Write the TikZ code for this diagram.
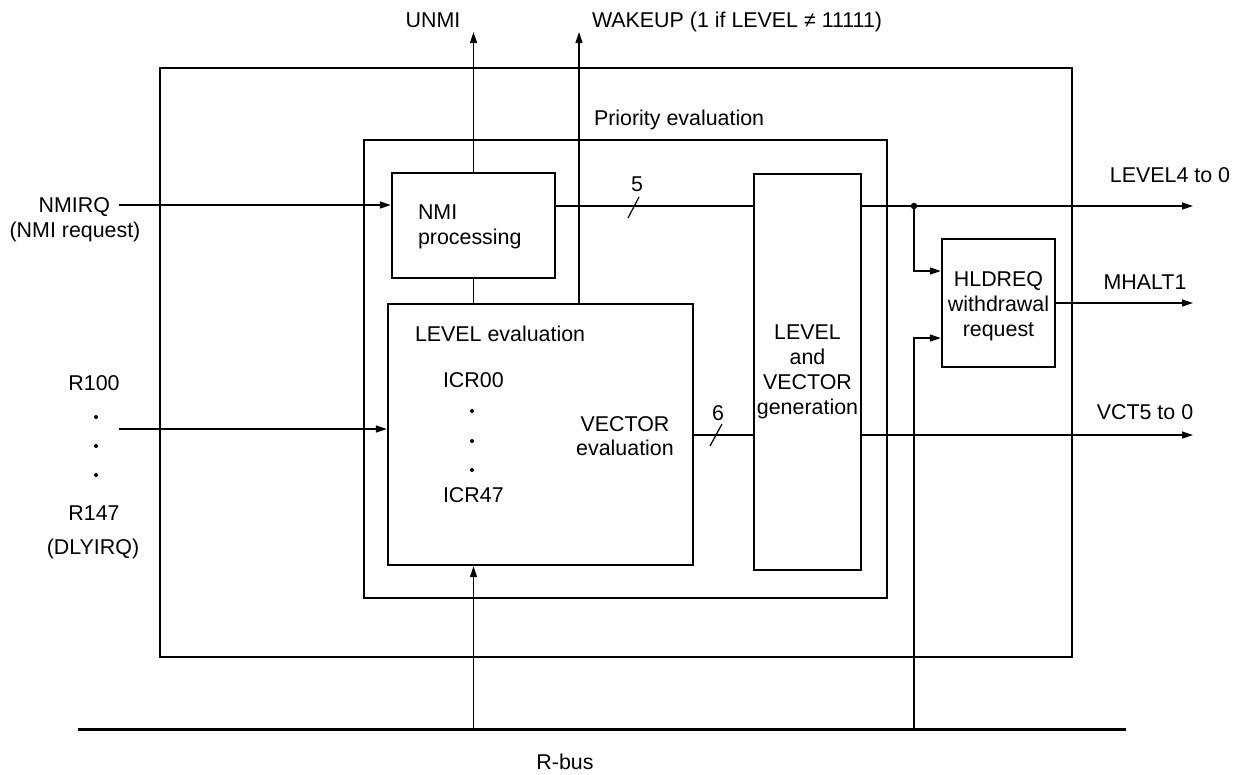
\documentclass[tikz,border=0pt]{standalone}
\usepackage{fontspec}
\setmainfont{Liberation Sans}
\usetikzlibrary{arrows.meta}
\begin{document}
\begin{tikzpicture}[x=1pt,y=-1pt,
  box/.style={draw, line width=2.4pt, inner sep=0pt},
  wire/.style={line width=1.2pt},
  arr/.style={wire, -{Triangle[length=11pt,width=7pt]}},
  lab/.style={font=\fontsize{21.4}{25}\selectfont, inner sep=0pt, outer sep=0pt},
  dotmark/.style={fill, circle, inner sep=0pt, minimum size=4pt},
  jdot/.style={fill, circle, inner sep=0pt, minimum size=6.5pt}]
\useasboundingbox (0,0) rectangle (1233,774);

% boxes
\node[box, minimum width=912pt, minimum height=589pt] (outer) at (616,362.5) {};
\node[box, minimum width=523pt, minimum height=458pt] (prio) at (625.5,369) {};
\node[box, minimum width=163pt, minimum height=105pt] (nmi) at (473.5,225.5) {};
\node[box, minimum width=305pt, minimum height=261pt] (leval) at (540.5,434.5) {};
\node[box, minimum width=107pt, minimum height=396pt, align=center,
      font=\fontsize{21.4}{25}\selectfont] (gen) at (807.5,372) {LEVEL\\and\\VECTOR\\generation};
\node[box, minimum width=113pt, minimum height=128pt] (hld) at (998.5,303) {};

% texts inside boxes
\node[lab, anchor=west, align=left, font=\fontsize{21.4}{25.5}\selectfont] (nmitxt) at (418,227) {NMI\\processing};
\node[lab, anchor=base west] (levtxt) at (415,341.5) {LEVEL evaluation};
\node[lab, anchor=base west] (icr0) at (443,387.5) {ICR00};
\node[lab, anchor=base west] (icr47) at (443,502.5) {ICR47};
\node[dotmark] (d1) at (472,411) {};
\node[dotmark] (d2) at (472,441) {};
\node[dotmark] (d3) at (472,470) {};
\node[lab, align=center, font=\fontsize{21.4}{24.5}\selectfont] (vectxt) at (625,436) {VECTOR\\evaluation};
\node[lab, align=center] (hldtxt) at (998.5,306) {HLDREQ\\withdrawal\\request};
\node[lab, anchor=base west] (priotxt) at (594,125) {Priority evaluation};

% top outputs
\coordinate (unmiend) at (473.5,32);
\coordinate (wakeend) at (579,32);
\node[lab, anchor=base] (unmi) at (433,27.5) {UNMI};
\node[lab, anchor=base west] (wake) at (592,27.5) {WAKEUP (1 if LEVEL ≠ 11111)};
\draw[arr] (nmi.north) -- (unmiend);
\draw[wire] (nmi.south) -- (nmi.south |- leval.north);
\draw[arr] (wakeend |- leval.north) -- (wakeend);

% left inputs
\node[lab, anchor=base east] (nmirq) at (110,212.5) {NMIRQ};
\node[lab, anchor=base] (nmireq) at (75,237) {(NMI request)};
\coordinate (nmiin) at (119,205);
\draw[arr] (nmiin) -- (nmiin -| nmi.west);

\node[lab, anchor=base] (r100) at (94,390.5) {R100};
\node[dotmark] (rd1) at (96,417) {};
\node[dotmark] (rd2) at (96,446) {};
\node[dotmark] (rd3) at (96,475) {};
\node[lab, anchor=base] (r147) at (94,520.5) {R147};
\node[lab, anchor=base] (dly) at (93,554) {(DLYIRQ)};
\coordinate (rin) at (119,429);
\draw[arr] (rin) -- (rin -| leval.west);

% level bus (5)
\coordinate (lvy) at (0,206);
\draw[wire] (nmi.east |- lvy) -- (gen.west |- lvy);
\draw[wire] (628,218) -- (639,197);
\node[lab, anchor=base] (five) at (637,191.5) {5};
\node[jdot] (jn) at (914,206) {};
\coordinate (lvout) at (1193,206);
\draw[arr] (gen.east |- lvy) -- (lvout);
\node[lab, anchor=base] (lvlab) at (1170,182) {LEVEL4 to 0};
\coordinate (hin1) at (914,271);
\draw[arr] (jn.center) -- (hin1) -- (hin1 -| hld.west);

% vector bus (6)
\coordinate (vcy) at (0,435);
\draw[wire] (leval.east |- vcy) -- (gen.west |- vcy);
\draw[wire] (710,446) -- (722,424);
\node[lab, anchor=base] (six) at (718,420.5) {6};
\coordinate (vcout) at (1193,435);
\draw[arr] (gen.east |- vcy) -- (vcout);
\node[lab, anchor=base] (vclab) at (1145,419.5) {VCT5 to 0};

% MHALT1
\coordinate (mhout) at (1193,303);
\draw[arr] (hld.east) -- (mhout);
\node[lab, anchor=base] (mhlab) at (1145,289.5) {MHALT1};

% R-bus
\coordinate (busl) at (78,729);
\coordinate (busr) at (1126,729);
\draw[line width=3pt] (busl) -- (busr);
\node[lab, anchor=base] (rbus) at (565,769.5) {R-bus};
\coordinate (busa) at (473.5,729);
\draw[arr] (busa) -- (busa |- leval.south);
\coordinate (busb) at (914,729);
\coordinate (hin2) at (914,338);
\draw[arr] (busb) -- (hin2) -- (hin2 -| hld.west);
\end{tikzpicture}
\end{document}
